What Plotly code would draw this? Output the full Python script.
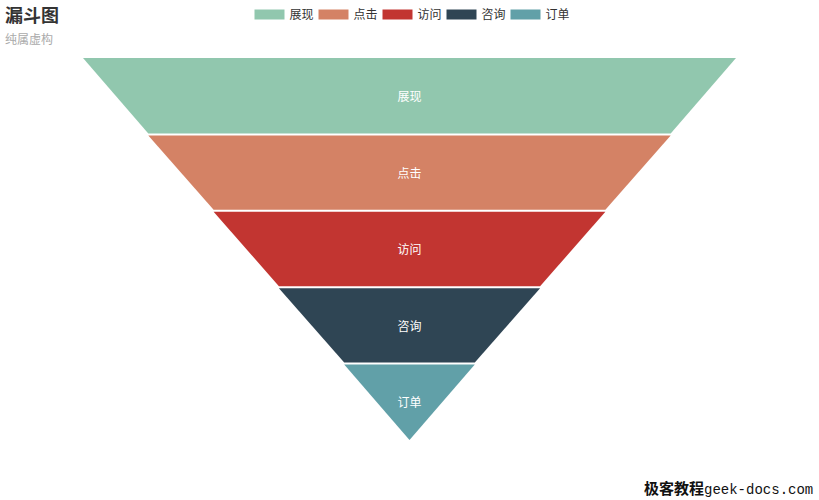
import plotly.graph_objects as go

# 漏斗数据
stages = ['展现', '点击', '访问', '咨询', '订单']
values = [100, 80, 60, 40, 20]
colors = ['#91c7ae', '#d48265', '#c23531', '#2f4554', '#61a0a8']

n = len(stages)
gap = 0.026  # 层间空隙 (y 单位)
vmax = max(values)

fig = go.Figure()

for i, (name, v, c) in enumerate(zip(stages, values, colors)):
    nxt = values[i + 1] if i + 1 < n else 0
    top = n - i - (gap / 2 if i > 0 else 0)
    bot = n - i - 1 + (gap / 2 if i + 1 < n else 0)
    xs = [-v / 2, v / 2, nxt / 2, -nxt / 2, -v / 2]
    ys = [top, top, bot, bot, top]
    fig.add_trace(go.Scatter(
        x=xs, y=ys, mode='lines', fill='toself', fillcolor=c,
        line=dict(color=c, width=0), name=name, hoverinfo='name',
        legendgroup=name, showlegend=False,
    ))
    # 图例用的占位 trace
    fig.add_trace(go.Scatter(
        x=[None], y=[None], mode='lines', line=dict(color=c, width=14),
        name=name, legendgroup=name,
    ))

# 标签
fig.add_trace(go.Scatter(
    x=[0] * n, y=[n - i - 0.53 for i in range(n)], mode='text',
    text=stages, textfont=dict(color='white', size=12),
    showlegend=False, hoverinfo='skip',
))

fig.update_xaxes(range=[-vmax / 2, vmax / 2], visible=False, fixedrange=True)
fig.update_yaxes(range=[0, n], visible=False, fixedrange=True)

fig.update_layout(
    width=819, height=500,
    margin=dict(l=83, r=83, t=58, b=60),
    paper_bgcolor='white', plot_bgcolor='white',
    font=dict(family='Noto Sans CJK SC', color='#333'),
    legend=dict(
        orientation='h', x=0.5, xanchor='center', y=1.0, yanchor='top',
        yref='container', font=dict(size=12, color='#333'),
        tracegroupgap=0, entrywidth=19, entrywidthmode='pixels',
    ),
    annotations=[
        dict(text='<b>漏斗图</b>', x=3, y=500 + 1, xref='paper', yref='paper',
             showarrow=False, xanchor='left', yanchor='top',
             font=dict(size=18, color='#333')),
        dict(text='纯属虚构', x=3, y=500 - 28, xref='paper', yref='paper',
             showarrow=False, xanchor='left', yanchor='top',
             font=dict(size=12, color='#aaa')),
        dict(text='<b><span style="font-size:15px">极客教程</span></b><span style="font-family:Liberation Mono">geek-docs.com</span>',
             x=815, y=500 - 487, xref='paper', yref='paper',
             showarrow=False, xanchor='right', yanchor='middle',
             font=dict(size=14, color='#111')),
    ],
)

# 注释位置按像素换算到 paper 坐标
pw = 819 - 83 - 83
ph = 500 - 58 - 60
for a in fig.layout.annotations:
    a.x = (a.x - 83) / pw
    a.y = (a.y - 60) / ph

fig.write_html('out.html', config={'displayModeBar': False},
               post_script="document.body.style.margin='0';")
